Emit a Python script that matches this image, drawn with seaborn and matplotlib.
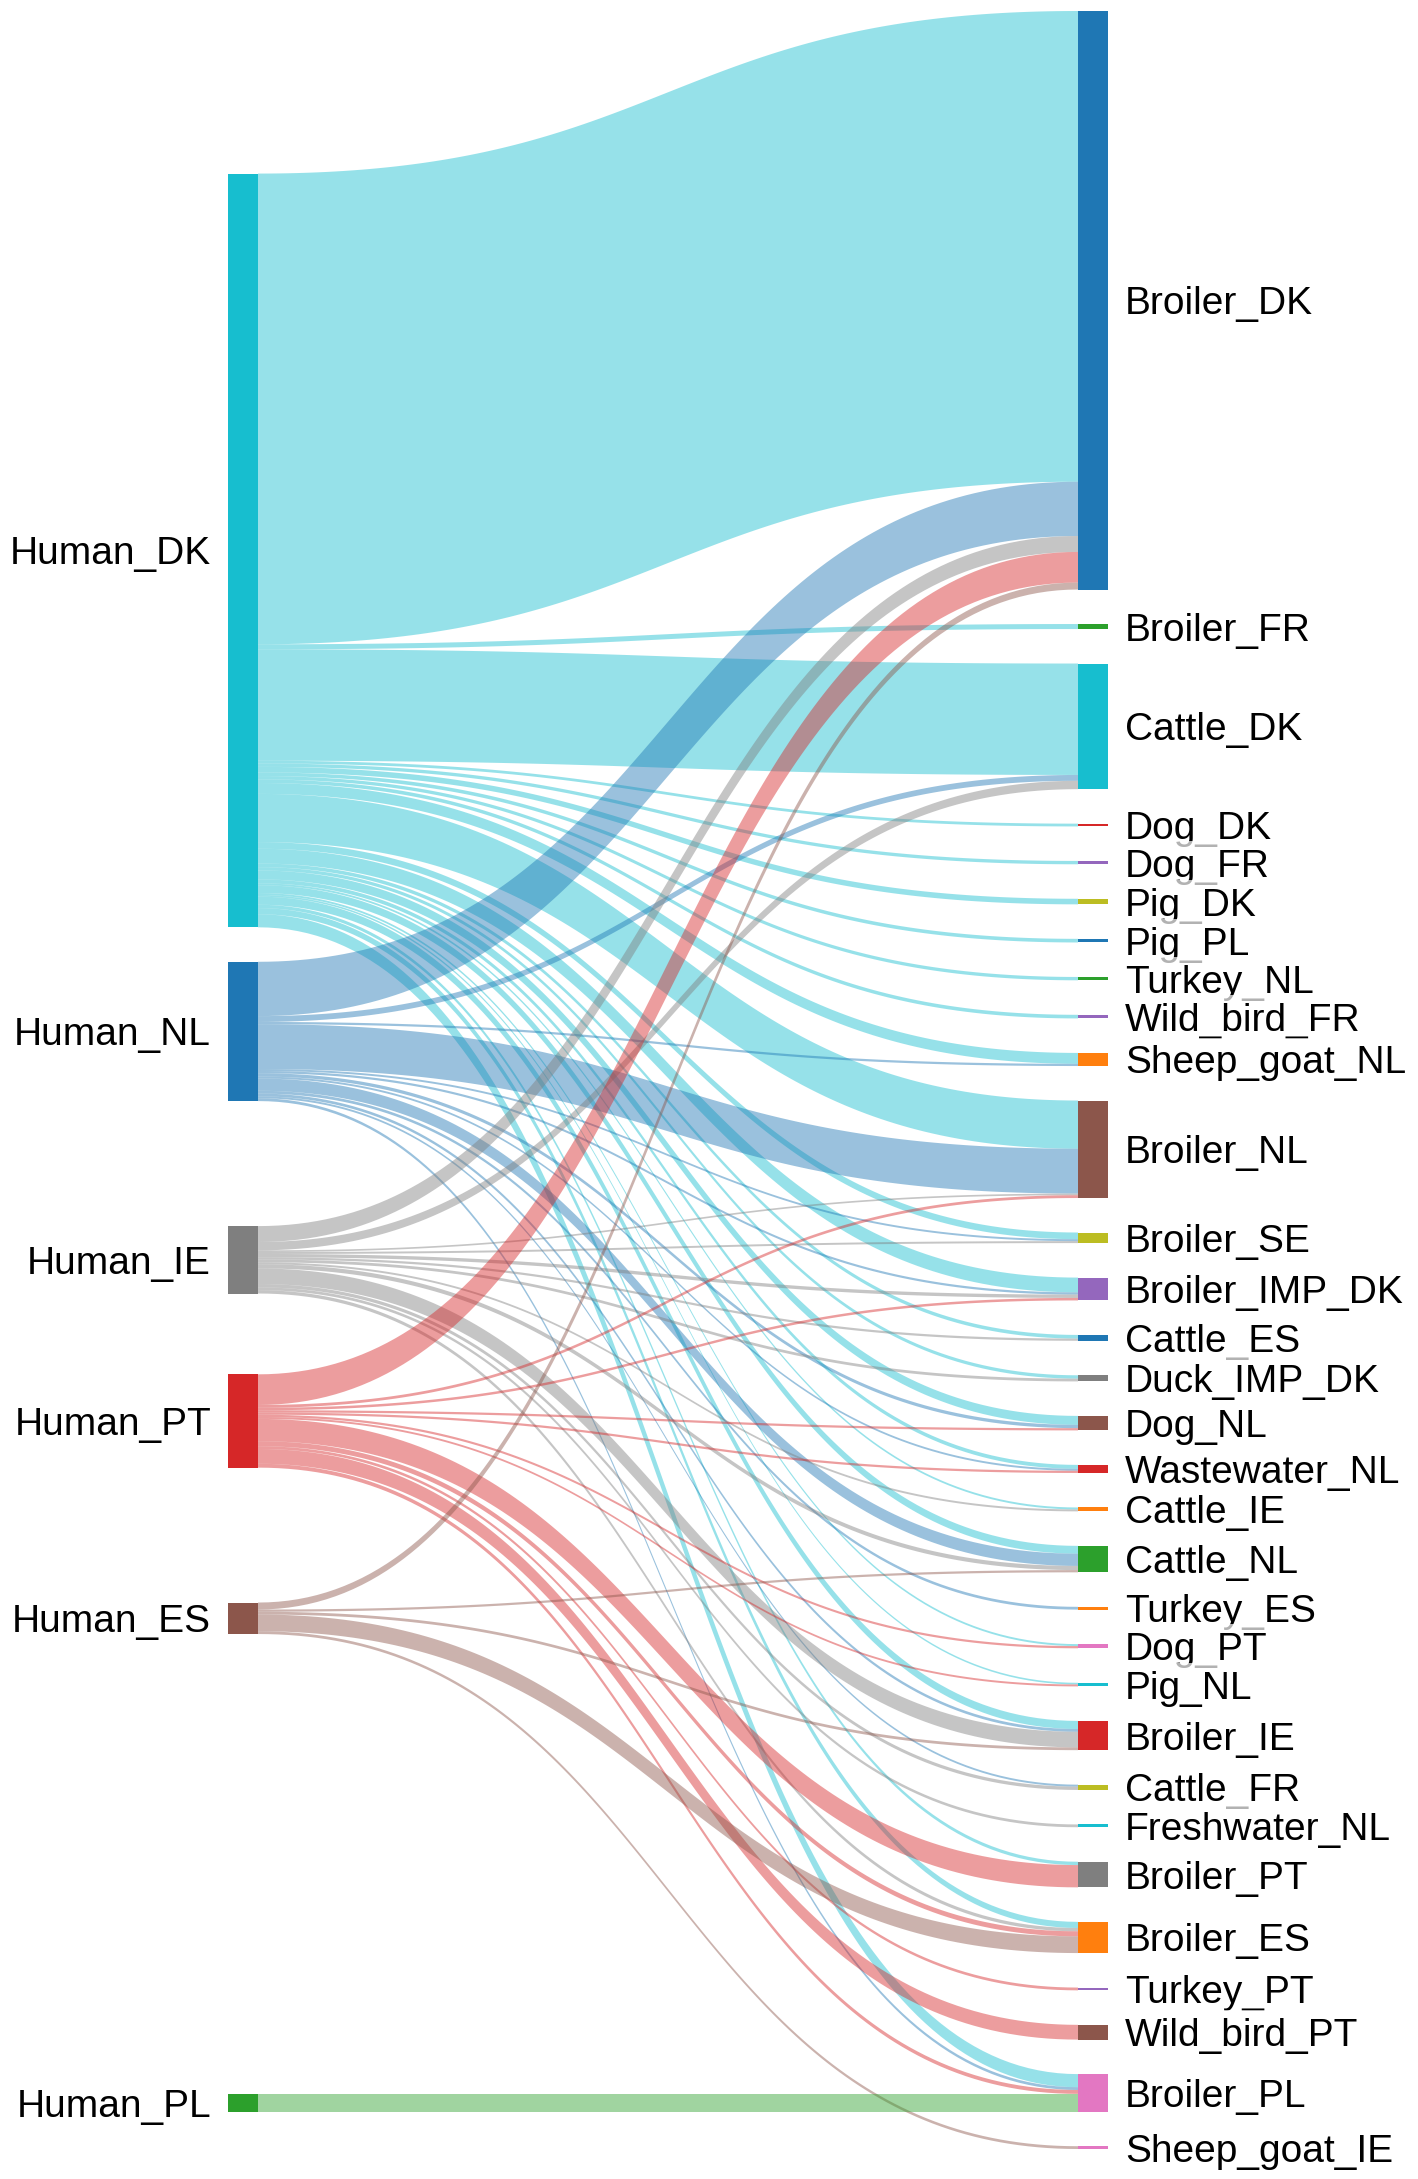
import numpy as np
import matplotlib
matplotlib.use("Agg")
import matplotlib.pyplot as plt
import seaborn as sns
from matplotlib.patches import Polygon, Rectangle

# ---------------- data ----------------
left_nodes = ["Human_DK", "Human_NL", "Human_IE", "Human_PT", "Human_ES", "Human_PL"]
right_nodes = ["Broiler_DK", "Broiler_FR", "Cattle_DK", "Dog_DK", "Dog_FR", "Pig_DK", "Pig_PL",
               "Turkey_NL", "Wild_bird_FR", "Sheep_goat_NL", "Broiler_NL", "Broiler_SE",
               "Broiler_IMP_DK", "Cattle_ES", "Duck_IMP_DK", "Dog_NL", "Wastewater_NL",
               "Cattle_IE", "Cattle_NL", "Turkey_ES", "Dog_PT", "Pig_NL", "Broiler_IE",
               "Cattle_FR", "Freshwater_NL", "Broiler_PT", "Broiler_ES", "Turkey_PT",
               "Wild_bird_PT", "Broiler_PL", "Sheep_goat_IE"]

link_source = ["Human_DK", "Human_NL", "Human_IE", "Human_PT", "Human_ES",
               "Human_DK",
               "Human_DK", "Human_NL", "Human_IE",
               "Human_DK", "Human_DK", "Human_DK", "Human_DK", "Human_DK", "Human_DK",
               "Human_DK", "Human_NL",
               "Human_DK", "Human_NL", "Human_IE", "Human_PT",
               "Human_DK", "Human_NL", "Human_IE",
               "Human_DK", "Human_NL", "Human_IE", "Human_PT",
               "Human_DK", "Human_IE",
               "Human_DK", "Human_IE",
               "Human_DK", "Human_NL", "Human_PT",
               "Human_DK", "Human_NL", "Human_PT",
               "Human_DK", "Human_IE",
               "Human_DK", "Human_NL", "Human_IE", "Human_ES",
               "Human_NL",
               "Human_DK", "Human_PT",
               "Human_DK", "Human_PT",
               "Human_DK", "Human_NL", "Human_IE", "Human_ES",
               "Human_NL", "Human_IE",
               "Human_IE",
               "Human_DK", "Human_PT",
               "Human_DK", "Human_IE", "Human_PT", "Human_ES",
               "Human_PT",
               "Human_PT",
               "Human_DK", "Human_NL", "Human_PT", "Human_PL",
               "Human_ES"]
link_target = ["Broiler_DK"] * 5 + ["Broiler_FR"] + ["Cattle_DK"] * 3 + \
              ["Dog_DK", "Dog_FR", "Pig_DK", "Pig_PL", "Turkey_NL", "Wild_bird_FR"] + \
              ["Sheep_goat_NL"] * 2 + ["Broiler_NL"] * 4 + ["Broiler_SE"] * 3 + \
              ["Broiler_IMP_DK"] * 4 + ["Cattle_ES"] * 2 + ["Duck_IMP_DK"] * 2 + \
              ["Dog_NL"] * 3 + ["Wastewater_NL"] * 3 + ["Cattle_IE"] * 2 + \
              ["Cattle_NL"] * 4 + ["Turkey_ES"] + ["Dog_PT"] * 2 + ["Pig_NL"] * 2 + \
              ["Broiler_IE"] * 4 + ["Cattle_FR"] * 2 + ["Freshwater_NL"] + \
              ["Broiler_PT"] * 2 + ["Broiler_ES"] * 4 + ["Turkey_PT"] + ["Wild_bird_PT"] + \
              ["Broiler_PL"] * 4 + ["Sheep_goat_IE"]
link_value = [169.0, 19.5, 5.7, 11.0, 2.5,
              1.8,
              40.0, 2.1, 3.0,
              1.0, 1.2, 2.0, 1.3, 1.2, 1.3,
              3.9, 0.8,
              17.3, 16.1, 0.6, 1.0,
              2.4, 0.7, 0.7,
              5.3, 0.8, 1.2, 0.9,
              1.3, 0.8,
              1.2, 1.0,
              3.2, 1.2, 0.8,
              1.4, 0.7, 0.8,
              0.7, 0.7,
              2.8, 4.4, 1.5, 0.8,
              1.0,
              0.7, 0.8,
              0.6, 0.7,
              2.9, 1.0, 5.6, 1.0,
              0.7, 1.2,
              1.0,
              1.2, 8.0,
              2.2, 1.2, 1.8, 6.0,
              1.0,
              5.3,
              4.7, 1.0, 1.4, 6.4,
              1.0]

# palette indices (tab10) for node colours
left_color_idx = [9, 0, 7, 3, 5, 2]
right_color_idx = [0, 2, 9, 3, 4, 8, 0, 2, 4, 1, 5, 8, 4, 0, 7, 5, 3, 1, 2, 1, 6, 9, 3, 8, 9,
                   7, 1, 4, 5, 6, 6]

# ---------------- style / layout ----------------
sns.set_theme(style="white")
plt.rcParams["font.family"] = ["Liberation Sans", "DejaVu Sans"]
pal = sns.color_palette("tab10")

W, H = 1418, 2179
EXT_TOP, EXT_BOT = 11.0, 2149.0
PAD = 34.5
NODE_W = 30.0
LEFT_X0, RIGHT_X0 = 228.0, 1078.0
LINK_ALPHA = 0.45
FS = 28  # points at dpi 100 (~39 px)

fig = plt.figure(figsize=(W / 100, H / 100), dpi=100)
ax = fig.add_axes([0, 0, 1, 1])
ax.set_xlim(0, W)
ax.set_ylim(H, 0)
ax.axis("off")

li = {n: i for i, n in enumerate(left_nodes)}
ri = {n: i for i, n in enumerate(right_nodes)}
src = np.array([li[s] for s in link_source])
tgt = np.array([ri[t] for t in link_target])
val = np.array(link_value, dtype=float)

left_val = np.array([val[src == i].sum() for i in range(len(left_nodes))])
right_val = np.array([val[tgt == j].sum() for j in range(len(right_nodes))])

ky = min((EXT_BOT - EXT_TOP - PAD * (len(right_nodes) - 1)) / right_val.sum(),
         (EXT_BOT - EXT_TOP - PAD * (len(left_nodes) - 1)) / left_val.sum())
width = val * ky
left_h = left_val * ky
right_h = right_val * ky

# right column: packed
right_y0 = np.zeros(len(right_nodes))
y = EXT_TOP
for j in range(len(right_nodes)):
    right_y0[j] = y
    y += right_h[j] + PAD

# link offsets at target (sorted by source order) and at source (sorted by target order)
t_off = np.zeros(len(val))
for j in range(len(right_nodes)):
    ids = sorted(np.where(tgt == j)[0], key=lambda k: src[k])
    o = 0.0
    for k in ids:
        t_off[k] = o
        o += width[k]
s_off = np.zeros(len(val))
for i in range(len(left_nodes)):
    ids = sorted(np.where(src == i)[0], key=lambda k: tgt[k])
    o = 0.0
    for k in ids:
        s_off[k] = o
        o += width[k]

ty = right_y0[tgt] + t_off
# ideal left node tops: links horizontal on (weighted) average
ideal = np.array([np.sum(width[src == i] * (ty[src == i] - s_off[src == i])) / width[src == i].sum()
                  for i in range(len(left_nodes))])

# resolve collisions (pool adjacent blocks)
blocks = []
for i in range(len(left_nodes)):
    blocks.append({"idx": [i], "w": left_val[i], "ws": left_val[i] * ideal[i]})
    while len(blocks) > 1:
        a, b = blocks[-2], blocks[-1]
        a_h = sum(left_h[a["idx"]]) + PAD * (len(a["idx"]) - 1)
        if a["ws"] / a["w"] + a_h + PAD > b["ws"] / b["w"]:
            off = a_h + PAD
            blocks[-2:] = [{"idx": a["idx"] + b["idx"], "w": a["w"] + b["w"],
                            "ws": a["ws"] + b["ws"] - off * b["w"]}]
        else:
            break
left_y0 = np.zeros(len(left_nodes))
for b in blocks:
    y = b["ws"] / b["w"]
    for i in b["idx"]:
        left_y0[i] = y
        y += left_h[i] + PAD
shift = max(0.0, EXT_TOP - left_y0[0])
left_y0 += shift
over = left_y0[-1] + left_h[-1] - EXT_BOT
if over > 0:
    left_y0 -= over

sy = left_y0[src] + s_off

# ---------------- links ----------------
x0 = LEFT_X0 + NODE_W
x1 = RIGHT_X0
xm = (x0 + x1) / 2
t = np.linspace(0, 1, 120)
bx = (1 - t) ** 3 * x0 + 3 * (1 - t) ** 2 * t * xm + 3 * (1 - t) * t ** 2 * xm + t ** 3 * x1
wy = (1 - t) ** 3 + 3 * (1 - t) ** 2 * t

order = sorted(range(len(val)), key=lambda k: (src[k], tgt[k]))
for k in order:
    top = wy * sy[k] + (1 - wy) * ty[k]
    bot = top + width[k]
    pts = np.concatenate([np.column_stack([bx, top]), np.column_stack([bx[::-1], bot[::-1]])])
    ax.add_patch(Polygon(pts, closed=True, facecolor=pal[left_color_idx[src[k]]],
                         alpha=LINK_ALPHA, edgecolor="none", linewidth=0, zorder=1))

# ---------------- nodes ----------------
for i, name in enumerate(left_nodes):
    ax.add_patch(Rectangle((LEFT_X0, left_y0[i]), NODE_W, left_h[i],
                           facecolor=pal[left_color_idx[i]], edgecolor="none", zorder=2))
for j, name in enumerate(right_nodes):
    ax.add_patch(Rectangle((RIGHT_X0, right_y0[j]), NODE_W, max(right_h[j], 1.0),
                           facecolor=pal[right_color_idx[j]], edgecolor="none", zorder=2))

# ---------------- labels ----------------
box = dict(boxstyle="square,pad=0.2", facecolor="white", edgecolor="none", alpha=0.7)
base_off = 0.36 * FS * 100 / 72  # cap-height/2 in px
for i, name in enumerate(left_nodes):
    cy = left_y0[i] + left_h[i] / 2
    ax.text(LEFT_X0 - 17, cy + base_off, name, ha="right", va="baseline",
            fontsize=FS, color="black", bbox=box, zorder=3)
for j, name in enumerate(right_nodes):
    cy = right_y0[j] + right_h[j] / 2
    ax.text(RIGHT_X0 + NODE_W + 17, cy + base_off, name, ha="left", va="baseline",
            fontsize=FS, color="black", bbox=box, zorder=3)

fig.savefig("out.png", dpi=100, facecolor="white")
